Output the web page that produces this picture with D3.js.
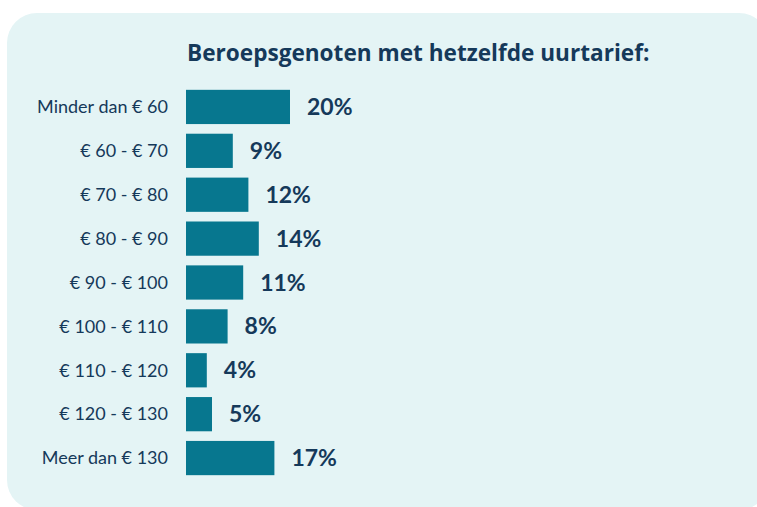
<!DOCTYPE html>
<html>
<head>
<meta charset="utf-8">
<script src="https://cdn.jsdelivr.net/npm/d3@7"></script>
<style>
  html, body { margin: 0; padding: 0; background: #ffffff; }
  svg { display: block; }
</style>
</head>
<body>
<div id="chart"></div>
<script>
// Hourly-rate distribution data
const categories = [
  'Minder dan € 60',
  '€ 60 - € 70',
  '€ 70 - € 80',
  '€ 80 - € 90',
  '€ 90 - € 100',
  '€ 100 - € 110',
  '€ 110 - € 120',
  '€ 120 - € 130',
  'Meer dan € 130'
]
const values = [20, 9, 12, 14, 11, 8, 4, 5, 17]
const title = 'Beroepsgenoten met hetzelfde uurtarief:'

const width = 757
const height = 507
const navy = '#15395a'
const barColor = '#07778f'

const svg = d3
  .select('#chart')
  .append('svg')
  .attr('width', width)
  .attr('height', height)

// Light panel behind the chart (runs slightly off the right and bottom edges)
svg
  .append('rect')
  .attr('x', 7)
  .attr('y', 13)
  .attr('width', 762)
  .attr('height', 497)
  .attr('rx', 30)
  .attr('fill', '#e4f4f5')

svg
  .append('text')
  .attr('x', 187)
  .attr('y', 61)
  .attr('fill', navy)
  .attr('font-family', '"Open Sans", sans-serif')
  .attr('font-weight', 700)
  .attr('font-size', 22.6)
  .text(title)

// Scales
const x = d3.scaleLinear().domain([0, 20]).range([186, 290])
const y = d3
  .scaleBand()
  .domain(categories)
  .range([85, 480])
  .paddingInner(0.22)
  .paddingOuter(0.11)

const rows = svg
  .selectAll('.row')
  .data(categories.map((c, i) => ({ cat: c, val: values[i] })))
  .join('g')
  .attr('class', 'row')

rows
  .append('rect')
  .attr('x', x(0))
  .attr('y', (d) => y(d.cat))
  .attr('width', (d) => x(d.val) - x(0))
  .attr('height', y.bandwidth())
  .attr('fill', barColor)

rows
  .append('text')
  .attr('x', 168)
  .attr('y', (d) => y(d.cat) + y.bandwidth() / 2)
  .attr('dy', '0.35em')
  .attr('text-anchor', 'end')
  .attr('fill', navy)
  .attr('font-family', 'Lato, sans-serif')
  .attr('font-size', 18)
  .text((d) => d.cat)

rows
  .append('text')
  .attr('x', (d) => x(d.val) + 17)
  .attr('y', (d) => y(d.cat) + y.bandwidth() / 2)
  .attr('dy', '0.35em')
  .attr('fill', navy)
  .attr('font-family', 'Lato, sans-serif')
  .attr('font-weight', 700)
  .attr('font-size', 23)
  .text((d) => d.val + '%')
</script>
</body>
</html>
